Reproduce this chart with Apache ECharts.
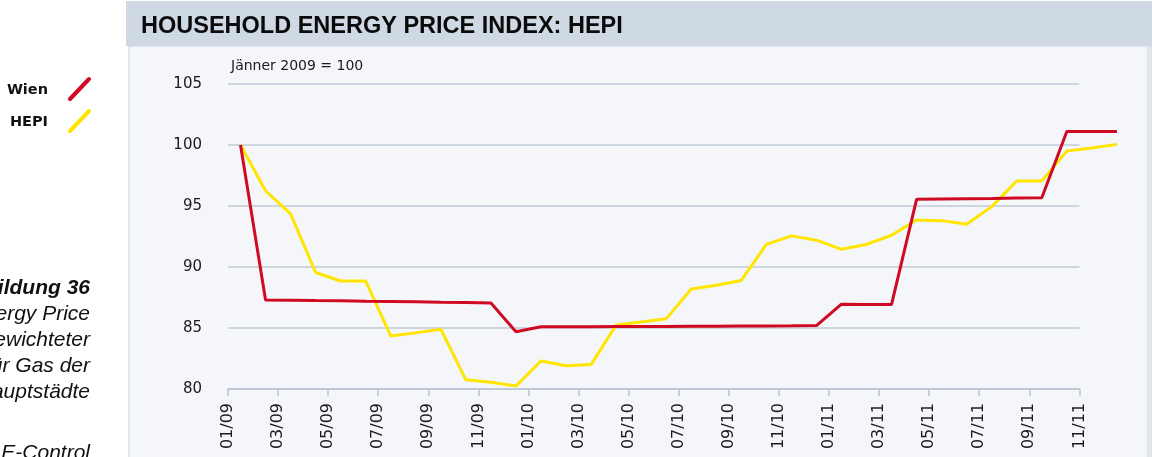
<!DOCTYPE html>
<html>
<head>
<meta charset="utf-8">
<script src="https://cdn.jsdelivr.net/npm/echarts@6/dist/echarts.min.js"></script>
<style>
  html, body { margin: 0; padding: 0; background: #ffffff; }
  #chart { width: 1152px; height: 457px; }
</style>
</head>
<body>
<div id="chart"></div>
<script>
// Monthly labels, January 2009 to December 2011
const monthLabels = [
  '01/09','02/09','03/09','04/09','05/09','06/09','07/09','08/09','09/09','10/09','11/09','12/09',
  '01/10','02/10','03/10','04/10','05/10','06/10','07/10','08/10','09/10','10/10','11/10','12/10',
  '01/11','02/11','03/11','04/11','05/11','06/11','07/11','08/11','09/11','10/11','11/11','12/11'
];

// Index values (January 2009 = 100)
const wien = [
  100.0, 87.3, 87.28, 87.25, 87.23, 87.2, 87.18, 87.15, 87.12, 87.1, 87.05, 84.7,
  85.1, 85.1, 85.1, 85.12, 85.12, 85.13, 85.14, 85.15, 85.16, 85.17, 85.18, 85.2,
  86.95, 86.93, 86.93, 95.55, 95.58, 95.6, 95.62, 95.65, 95.68, 101.1, 101.1, 101.1
];
const hepi = [
  100.0, 96.25, 94.35, 89.55, 88.85, 88.85, 84.35, 84.6, 84.9, 80.75, 80.55, 80.25,
  82.3, 81.9, 82.0, 85.25, 85.5, 85.75, 88.2, 88.5, 88.9, 91.85, 92.55, 92.2,
  91.45, 91.85, 92.6, 93.85, 93.8, 93.5, 94.95, 97.05, 97.05, 99.5, 99.75, 100.05
];

const seriesNames = ['Wien', 'HEPI'];
const seriesColors = ['#cf0a22', '#ffe500'];

const yTicks = { min: 80, max: 105, step: 5 };
const labelledMonths = 34;   // the drawn axis runs from 01/09 to 11/11

// Caption lines on the left margin (right-aligned, partly beyond the page edge)
const captionLines = [
  'Abbildung 36',
  'Household Energy Price',
  'Index: gewichteter',
  'Durchschnitt für Gas der',
  'Landeshauptstädte'
];
const sourceLine = 'Quelle: E-Control';

// Each value sits in the middle of its month slot
const toPoints = arr => arr.map((v, i) => [i + 0.5, v]);

const chart = echarts.init(document.getElementById('chart'), null, { renderer: 'canvas' });

const SANS = '"DejaVu Sans", Verdana, sans-serif';
const ARIAL = '"Liberation Sans", Arial, sans-serif';

// geometry of the plot: one month slot per step
const plotLeft = 228, plotTop = 84, plotBottom = 68;
const slot = 25.04;
const axisRight = 1152 - plotLeft - slot * labelledMonths;          // drawn axis ends at 11/11
const dataRight = 1152 - plotLeft - slot * monthLabels.length;      // lines continue to 12/11

const graphics = [
  // panel and header band
  { type: 'rect', z: -10, shape: { x: 129, y: 46, width: 1019, height: 420 },
    style: { fill: '#f4f6fa', stroke: '#c9d3df', lineWidth: 1 } },
  { type: 'rect', z: -10, shape: { x: 1148, y: 46, width: 4, height: 420 },
    style: { fill: '#dfe5ec' } },
  { type: 'rect', z: -9, shape: { x: 126, y: 1, width: 1026, height: 45 },
    style: { fill: '#cfd9e3' } },
  { type: 'text', z: 10, x: 141, y: 27,
    style: { text: 'HOUSEHOLD ENERGY PRICE INDEX: HEPI', fill: '#0a0a0a',
      font: 'bold 23.5px ' + ARIAL, textVerticalAlign: 'middle' } },
  { type: 'text', z: 10, x: 231, y: 66,
    style: { text: 'Jänner 2009 = 100', fill: '#1a1a1a', font: '14px ' + SANS,
      textVerticalAlign: 'middle' } }
];

// legend: name + slanted stroke
seriesNames.forEach((name, k) => {
  const cy = 90 + k * 32;
  graphics.push({ type: 'text', z: 10, x: 48, y: cy,
    style: { text: name, fill: '#111', font: 'bold 14.5px ' + SANS,
      textAlign: 'right', textVerticalAlign: 'middle' } });
  graphics.push({ type: 'line', z: 10,
    shape: { x1: 70, y1: cy + 9, x2: 89, y2: cy - 11 },
    style: { stroke: seriesColors[k], lineWidth: 4, lineCap: 'round' } });
});

captionLines.forEach((line, k) => {
  graphics.push({ type: 'text', z: 10, x: 90, y: 288 + k * 26,
    style: { text: line, fill: '#111',
      font: (k === 0 ? 'italic bold 21px ' : 'italic 21px ') + ARIAL,
      textAlign: 'right', textVerticalAlign: 'middle' } });
});
graphics.push({ type: 'text', z: 10, x: 90, y: 453,
  style: { text: sourceLine, fill: '#111', font: 'italic 21px ' + ARIAL,
    textAlign: 'right', textVerticalAlign: 'middle' } });

chart.setOption({
  animation: false,
  backgroundColor: 'transparent',
  grid: [
    { left: plotLeft, right: axisRight, top: plotTop, bottom: plotBottom, containLabel: false },
    { left: plotLeft, right: dataRight, top: plotTop, bottom: plotBottom, containLabel: false }
  ],
  xAxis: [
    {
      gridIndex: 0,
      type: 'value',
      min: 0,
      max: labelledMonths,
      interval: 2,
      axisLine: { show: true, lineStyle: { color: '#b9c4d4', width: 1.5 } },
      axisTick: { show: true, length: 7, lineStyle: { color: '#b9c4d4', width: 1.5 } },
      splitLine: { show: false },
      axisLabel: {
        rotate: 90,
        margin: 14,
        color: '#1a1a1a',
        fontSize: 16,
        fontFamily: SANS,
        formatter: v => monthLabels[v] || ''
      }
    },
    {
      gridIndex: 1,
      type: 'value',
      min: 0,
      max: monthLabels.length,
      show: false
    }
  ],
  yAxis: [
    {
      gridIndex: 0,
      type: 'value',
      min: yTicks.min,
      max: yTicks.max,
      interval: yTicks.step,
      axisLine: { show: false },
      axisTick: { show: false },
      splitLine: { show: true, lineStyle: { color: '#c0cad9', width: 1.5 } },
      axisLabel: { margin: 26, color: '#1a1a1a', fontSize: 15, fontFamily: SANS }
    },
    {
      gridIndex: 1,
      type: 'value',
      min: yTicks.min,
      max: yTicks.max,
      show: false,
      splitLine: { show: false }
    }
  ],
  series: [
    { name: seriesNames[1], type: 'line', xAxisIndex: 1, yAxisIndex: 1,
      data: toPoints(hepi), showSymbol: false, symbol: 'none', z: 3,
      lineStyle: { color: seriesColors[1], width: 3 } },
    { name: seriesNames[0], type: 'line', xAxisIndex: 1, yAxisIndex: 1,
      data: toPoints(wien), showSymbol: false, symbol: 'none', z: 4,
      lineStyle: { color: seriesColors[0], width: 3 } }
  ],
  graphic: graphics
});
</script>
</body>
</html>
